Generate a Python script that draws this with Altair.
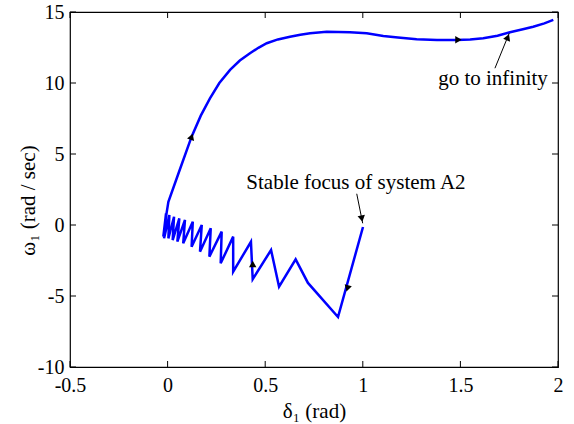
import altair as alt
import pandas as pd

# trajectory (delta_1 [rad], omega_1 [rad/sec])
traj_x = [1.001, 0.873, 0.719, 0.656, 0.571, 0.530, 0.436, 0.427, 0.336, 0.336,
          0.272, 0.277, 0.214, 0.221, 0.166, 0.175, 0.123, 0.129, 0.080, 0.089,
          0.050, 0.060, 0.026, 0.033, 0.004, 0.009, -0.018, -0.008, -0.022, -0.005,
          0.004, 0.060, 0.123, 0.170, 0.217, 0.265, 0.320, 0.370, 0.422, 0.465,
          0.508, 0.565, 0.627, 0.680, 0.730, 0.815, 0.934, 1.020, 1.105, 1.180,
          1.276, 1.380, 1.481, 1.550, 1.617, 1.690, 1.754, 1.820, 1.873, 1.930,
          1.976]
traj_y = [-0.14, -6.48, -4.08, -2.42, -4.35, -1.76, -3.82, -1.18, -3.29, -0.82,
          -2.70, -0.47, -2.23, -0.23, -1.88, 0.00, -1.53, 0.23, -1.29, 0.35,
          -1.17, 0.47, -1.06, 0.58, -0.94, 0.70, -0.94, 0.82, -0.82, 0.85,
          1.64, 3.80, 6.22, 7.70, 8.92, 10.00, 10.92, 11.58, 12.09, 12.48,
          12.80, 13.07, 13.26, 13.40, 13.50, 13.61, 13.57, 13.50, 13.31, 13.20,
          13.08, 13.03, 13.03, 13.07, 13.15, 13.33, 13.57, 13.78, 13.96, 14.20,
          14.44]

# direction arrows on the trajectory
head_x = [0.123, 1.490, 0.436, 0.921]
head_y = [6.22, 13.04, -2.75, -4.46]
head_dir = [19, 90, 0, 195.5]

# annotation arrows
ann_x1 = [0.969, 1.677]
ann_y1 = [2.20, 11.04]
ann_x2 = [0.9995, 1.750]
ann_y2 = [0.12, 13.50]
ann_hx = [0.995, 1.743]
ann_hy = [0.45, 13.22]
ann_hdir = [169.3, 22.2]

# annotation texts
ann_text = ["Stable focus of system A2", "go to infinity"]
ann_tx = [0.965, 1.667]
ann_ty = [2.57, 9.86]

xticks = [-0.5, 0, 0.5, 1, 1.5, 2]
yticks = [-10, -5, 0, 5, 10, 15]

FONT = "Liberation Serif, Times New Roman, serif"
W, H = 488, 355

traj = pd.DataFrame({"x": traj_x, "y": traj_y, "i": list(range(len(traj_x)))})
heads = pd.DataFrame({"x": head_x + ann_hx, "y": head_y + ann_hy, "d": head_dir + ann_hdir})
anns = pd.DataFrame({"x": ann_x1, "y": ann_y1, "x2": ann_x2, "y2": ann_y2})
texts = pd.DataFrame({"x": ann_tx, "y": ann_ty, "t": ann_text})
xt = pd.DataFrame({"x": xticks})
yt = pd.DataFrame({"y": yticks})

xs = alt.Scale(domain=[-0.5, 2], nice=False, zero=False)
ys = alt.Scale(domain=[-10, 15], nice=False, zero=False)

xaxis = alt.Axis(values=xticks, labelExpr="'' + datum.value", ticks=False, domain=False,
                 grid=False, labelFont=FONT, labelFontSize=20, labelColor="black",
                 labelPadding=8, labelFlush=False, labelOverlap=False,
                 title="δ₁ (rad)", titleFont=FONT, titleFontSize=21,
                 titleFontWeight="normal", titleColor="black",
                 titleY=44, titleBaseline="middle")
yaxis = alt.Axis(values=yticks, labelExpr="'' + datum.value", ticks=False, domain=False,
                 grid=False, labelFont=FONT, labelFontSize=20, labelColor="black",
                 labelPadding=6, labelFlush=False, labelOverlap=False,
                 title="ω₁ (rad / sec)", titleFont=FONT, titleFontSize=21,
                 titleFontWeight="normal", titleColor="black",
                 titleX=-42, titleY=188, titleBaseline="middle", titleAlign="center",
                 titleAngle=270)

X = alt.X("x:Q", scale=xs, axis=xaxis)
Y = alt.Y("y:Q", scale=ys, axis=yaxis)

line = alt.Chart(traj).mark_line(color="#0000FF", strokeWidth=2.5).encode(
    x=X, y=Y, order="i:Q",
)

arrows = alt.Chart(anns).mark_rule(color="black", strokeWidth=1).encode(
    x=X, y=Y, x2="x2:Q", y2="y2:Q",
)

hd = alt.Chart(heads).mark_point(shape="triangle-up", filled=True, color="black",
                                 size=55, opacity=1).encode(
    x=X, y=Y, angle=alt.Angle("d:Q", scale=None),
)

txt = alt.Chart(texts).mark_text(font=FONT, fontSize=21, color="black",
                                 align="center", baseline="alphabetic").encode(
    x=X, y=Y, text="t:N",
)

xt_bot = alt.Chart(xt).mark_rule(color="black", strokeWidth=1).encode(
    x=X, y=alt.value(H), y2=alt.value(H - 6))
xt_top = alt.Chart(xt).mark_rule(color="black", strokeWidth=1).encode(
    x=X, y=alt.value(0), y2=alt.value(6))
yt_left = alt.Chart(yt).mark_rule(color="black", strokeWidth=1).encode(
    y=Y, x=alt.value(0), x2=alt.value(6))
yt_right = alt.Chart(yt).mark_rule(color="black", strokeWidth=1).encode(
    y=Y, x=alt.value(W), x2=alt.value(W - 6))

chart = alt.layer(line, arrows, hd, txt, xt_bot, xt_top, yt_left, yt_right).properties(
    width=W, height=H,
    autosize=alt.AutoSizeParams(type="none"),
    padding={"left": 70, "top": 12, "right": 16, "bottom": 57},
    background="white",
).configure_view(stroke="black", strokeWidth=1.2)

chart.save("out.html", embed_options={"renderer": "svg", "actions": False})
